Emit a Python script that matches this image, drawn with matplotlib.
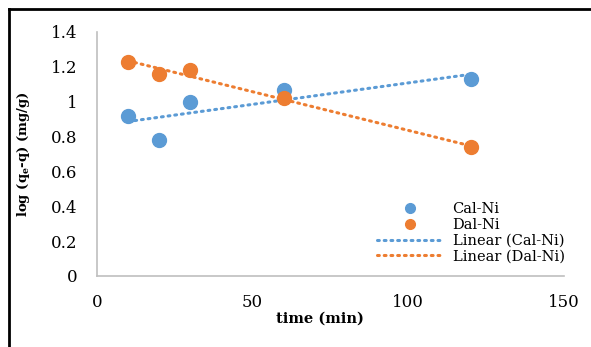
import matplotlib
matplotlib.use("Agg")
import matplotlib.pyplot as plt
import numpy as np
from matplotlib.lines import Line2D

time = [10, 20, 30, 60, 120]
cal_ni = [0.92, 0.78, 1.00, 1.07, 1.13]
dal_ni = [1.23, 1.16, 1.18, 1.02, 0.74]
x_ticks = [0, 50, 100, 150]
y_ticks = [0, 0.2, 0.4, 0.6, 0.8, 1.0, 1.2, 1.4]
y_tick_labels = ["0", "0.2", "0.4", "0.6", "0.8", "1", "1.2", "1.4"]

blue = "#5B9BD5"
orange = "#ED7D31"

plt.rcParams['font.family'] = ['DejaVu Serif']
plt.rcParams['mathtext.fontset'] = 'dejavuserif'

fig = plt.figure(figsize=(5.91, 3.47), dpi=100)
ax = fig.add_axes([97/591, 1-276/347, (564-97)/591, (276-32)/347])

# outer border
fig.add_artist(Line2D([8.5/591, 1.0], [1-8.5/347, 1-8.5/347], transform=fig.transFigure, color='black', lw=2))
fig.add_artist(Line2D([8.5/591, 8.5/591], [0, 1-8.5/347], transform=fig.transFigure, color='black', lw=2))

t = np.array(time, dtype=float)
for ys, col, name in [(cal_ni, blue, "Cal-Ni"), (dal_ni, orange, "Dal-Ni")]:
    ax.plot(t, ys, 'o', color=col, markersize=10, label=name, zorder=3)

for ys, col, name in [(cal_ni, blue, "Cal-Ni"), (dal_ni, orange, "Dal-Ni")]:
    m, b = np.polyfit(t, ys, 1)
    xs = np.array([t.min(), t.max()])
    ax.plot(xs, m*xs + b, color=col, lw=2.2, linestyle=(0, (0.6, 1.6)),
            dash_capstyle='round', label=f"Linear ({name})", zorder=2)

ax.set_xlim(0, 150)
ax.set_ylim(0, 1.4)
ax.set_xticks(x_ticks)
ax.set_xticklabels([str(v) for v in x_ticks])
ax.set_yticks(y_ticks)
ax.set_yticklabels(y_tick_labels)
ax.tick_params(length=0, labelsize=12)
ax.tick_params(axis='x', pad=13)
ax.tick_params(axis='y', pad=14)

for s in ['top', 'right']:
    ax.spines[s].set_visible(False)
for s in ['left', 'bottom']:
    ax.spines[s].set_color('#BFBFBF')
    ax.spines[s].set_linewidth(1.2)

ax.set_xlabel("time (min)", fontsize=10.5, fontweight='bold')
ax.xaxis.set_label_coords(0.477, -0.145)
ax.set_ylabel(r"log (q$_\mathregular{e}$-q) (mg/g)", fontsize=9.5, fontweight='bold')
ax.yaxis.set_label_coords(-0.139, 0.5)

leg = ax.legend(loc='lower right', bbox_to_anchor=(1.02, 0.015), frameon=False,
                fontsize=10.5, handlelength=4.5, handletextpad=0.7,
                labelspacing=0.12, borderaxespad=0.2, markerscale=0.7)

fig.savefig("out.png", dpi=100)
